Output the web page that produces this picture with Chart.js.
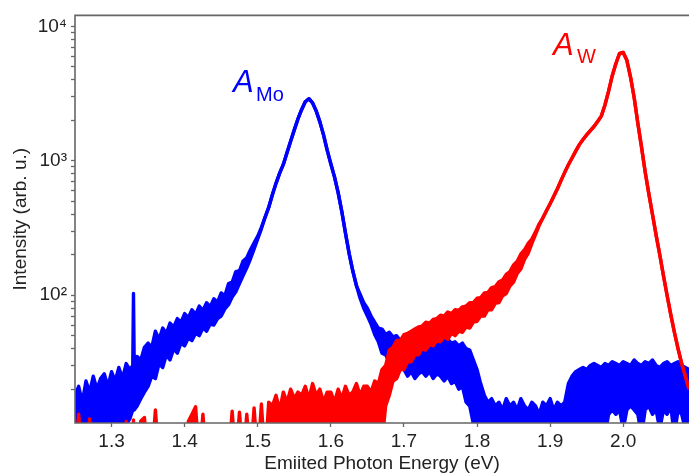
<!DOCTYPE html>
<html>
<head>
<meta charset="utf-8">
<script src="https://cdn.jsdelivr.net/npm/chart.js@4/dist/chart.umd.min.js"></script>
<style>
html,body{margin:0;padding:0;background:#fff;}
#wrap{width:689px;height:475px;position:relative;}
</style>
</head>
<body>
<div id="wrap"><canvas id="c"></canvas></div>
<script>
// Emitted photon energy grid (eV)
const energy = [
1.250,1.255,1.260,1.265,1.270,1.275,1.280,1.285,1.290,1.295,
1.300,1.305,1.310,1.315,1.320,1.325,1.329,1.330,1.331,1.335,1.340,1.345,
1.350,1.355,1.360,1.365,1.370,1.375,1.380,1.385,1.390,1.395,
1.400,1.405,1.410,1.415,1.420,1.425,1.430,1.435,1.440,1.445,
1.450,1.455,1.460,1.465,1.470,1.475,1.480,1.485,1.490,1.495,
1.500,1.505,1.510,1.515,1.520,1.525,1.530,1.535,1.540,1.545,
1.550,1.555,1.560,1.565,1.570,1.575,1.580,1.585,1.590,1.595,
1.600,1.605,1.610,1.615,1.620,1.625,1.630,1.635,1.640,1.645,
1.650,1.655,1.660,1.665,1.670,1.675,1.680,1.685,1.690,1.695,
1.700,1.705,1.710,1.715,1.720,1.725,1.730,1.735,1.740,1.745,
1.750,1.755,1.760,1.765,1.770,1.775,1.780,1.785,1.790,1.795,
1.800,1.805,1.810,1.815,1.820,1.825,1.830,1.835,1.840,1.845,
1.850,1.855,1.860,1.865,1.870,1.875,1.880,1.885,1.890,1.895,
1.900,1.905,1.910,1.915,1.920,1.925,1.930,1.935,1.940,1.945,
1.950,1.955,1.960,1.965,1.970,1.975,1.980,1.985,1.990,1.995,
2.000,2.005,2.010,2.015,2.020,2.025,2.030,2.035,2.040,2.045,
2.050,2.055,2.060,2.065,2.070,2.075,2.080,2.085,2.090
];

// A_Mo emission (blue): upper and lower edge of the noisy trace, arb. u.
const moHigh = [
18,21,16,23,19,25,20,24,26,21,
27,23,29,24,31,28,30,103,31,35,33,41,
44,41,54,47,57,52,62,58,67,63,
73,68,78,72,83,77,88,82,94,89,
104,99,122,125,150,152,180,190,218,245,
275,320,380,450,560,680,810,940,1150,1400,
1700,2050,2400,2750,2900,2700,2350,1950,1560,1200,
950,760,580,420,290,205,152,118,102,88,
80,70,63,57,56,51,53,49,50,46,
46,42,48,43,46,49,45,44,50,46,
54,46,47,44,45,42,44,40,39,33,
28,22,18,16,17,15,16,14,17,15,
16,14,17,15,14,16,15,13,16,15,
17,14,16,15,16,22,25,27,28,29,
28,30,31,30,29,31,30,32,31,30,
32,31,30,33,31,30,32,31,33,30,
29,31,32,30,31,32,30,29,28
];
const moLow = [
8,9,7,9,8,7,9,8,10,9,
8,9,10,9,11,12,14,14,14,15,17,19,
21,25,24,31,29,36,33,40,37,44,
42,48,46,52,50,57,54,61,60,67,
70,79,85,97,106,122,140,160,186,220,
262,312,380,450,560,680,810,940,1150,1400,
1700,2050,2400,2750,2900,2700,2350,1950,1560,1200,
950,760,580,420,290,205,152,118,95,80,
70,61,51,45,37,36,32,34,29,30,
28,25,27,24,26,27,25,27,24,26,
25,23,25,22,23,20,21,16,15,11,
8,7,7,7,7,7,7,7,7,7,
7,7,7,7,7,7,7,7,7,7,
7,7,7,7,7,8,9,9,9,10,
9,10,9,10,10,9,13,14,13,14,
10,14,15,14,13,9,14,15,13,14,
10,14,13,15,9,14,13,10,13
];

// A_W emission (red): upper and lower edge of the noisy trace, arb. u.
const wHigh = [
6,13,6,6,12,6,6,6,6,6,
6,6,6,6,11.5,6,6,11.8,6,6,11.6,12.3,
6,6,14,6,6,6,6,6,6,6,
6,11.5,13,14.8,6,13,6,6,6,6,
6,6,6,13.7,6,13.5,6,13,6,14.5,
6,15.5,6,16,15,18,14,19,16,20,
17,19,18,21,17,22,18,20,16,19,
19,16,20,17,21,18,19,22,18,21,
21,19,23,22,28,30,39,41,46,46,
51,52,54,56,58,59,63,62,66,67,
71,70,75,73,78,77,82,83,88,88,
95,96,104,105,114,116,126,130,143,150,
168,179,203,218,243,262,296,340,375,425,
480,545,620,715,820,935,1050,1180,1320,1440,
1560,1680,1800,1960,2150,2600,3300,4300,5300,6300,
6400,5600,4200,2950,1900,1270,830,570,400,280,
200,140,100,72,53,40,31,25,20
];
const wLow = [
6,6,6,6,6,6,6,6,6,6,
6,6,6,6,6,6,6,6,6,6,6,6,
6,6,6,6,6,6,6,6,6,6,
6,6,6,6,6,6,6,6,6,6,
6,6,6,6,6,6,6,6,6,6,
6,6,6,6,6,6,6,6,6,6,
6,6,6,6,6,6,6,6,6,6,
6,6,6,6,6,6,6,6,6,6,
6,6,6,6,8,15,18,23,24,28,
28,32,32,36,36,40,39,43,42,46,
45,49,47,52,50,54,53,58,57,63,
64,70,70,78,78,87,88,99,103,117,
125,145,157,185,205,242,282,330,375,425,
480,545,620,715,820,935,1050,1180,1320,1440,
1560,1680,1800,1960,2150,2600,3300,4300,5300,6300,
6400,5600,4200,2950,1900,1270,830,570,400,280,
200,140,100,72,53,40,31,25,20
];

const xTickValues = [1.3,1.4,1.5,1.6,1.7,1.8,1.9,2.0];
const yTickValues = [20,30,40,50,60,70,80,90,100,200,300,400,500,600,700,800,900,
  1000,2000,3000,4000,5000,6000,7000,8000,9000,10000];
const yTickLabels = {100:'10\u00B2',1000:'10\u00B3',10000:'10\u2074'};
const xRange = [1.25, 2.09];
const yRange = [11.2, 12080];

const FONT = '"Liberation Sans", Arial, Helvetica, sans-serif';
const BLUE = '#0000ff';
const RED = '#ff0000';

const framePlugin = {
  id: 'frame',
  afterDatasetsDraw(chart) {
    const {ctx, chartArea: a} = chart;
    ctx.save();
    ctx.strokeStyle = '#666';
    ctx.lineWidth = 1.6;
    ctx.beginPath();
    ctx.moveTo(a.left, a.top); ctx.lineTo(a.right + 2, a.top);
    ctx.moveTo(a.left, a.top - 0.8); ctx.lineTo(a.left, a.bottom + 0.8);
    ctx.moveTo(a.left, a.bottom); ctx.lineTo(a.right + 2, a.bottom);
    ctx.stroke();
    ctx.textBaseline = 'alphabetic';
    ctx.textAlign = 'left';
    ctx.fillStyle = BLUE;
    ctx.font = 'italic 31px ' + FONT; ctx.fillText('A', 233, 92);
    ctx.font = '20px ' + FONT; ctx.fillText('Mo', 256, 101);
    ctx.fillStyle = RED;
    ctx.font = 'italic 31px ' + FONT; ctx.fillText('A', 553, 55);
    ctx.font = '20px ' + FONT; ctx.fillText('W', 577, 63);
    ctx.restore();
  }
};

const toPoints = arr => energy.map((e, i) => ({x: e, y: arr[i]}));
const lineStyle = (color) => ({borderColor: color, backgroundColor: color, borderWidth: 3.4,
  pointRadius: 0, tension: 0, borderJoinStyle: 'round', clip: 0});

new Chart(document.getElementById('c'), {
  type: 'line',
  data: {
    datasets: [
      Object.assign({label: 'A_Mo high', data: toPoints(moHigh), fill: '+1', order: 2}, lineStyle(BLUE)),
      Object.assign({label: 'A_Mo low', data: toPoints(moLow), fill: false, order: 3}, lineStyle(BLUE)),
      Object.assign({label: 'A_W high', data: toPoints(wHigh), fill: '+1', order: 0}, lineStyle(RED)),
      Object.assign({label: 'A_W low', data: toPoints(wLow), fill: false, order: 1}, lineStyle(RED))
    ]
  },
  options: {
    responsive: true,
    maintainAspectRatio: false,
    animation: false,
    events: [],
    layout: {padding: {top: 8, right: 0, left: 0, bottom: 0}},
    plugins: {legend: {display: false}, tooltip: {enabled: false}, filler: {drawTime: 'beforeDatasetDraw'}},
    scales: {
      x: {
        type: 'linear', min: xRange[0], max: xRange[1],
        afterBuildTicks: s => { s.ticks = xTickValues.map(v => ({value: v})); },
        afterFit: s => { s.height = 52; },
        ticks: {callback: v => Number(v).toFixed(1), font: {family: FONT, size: 19}, color: '#222',
                padding: 3, maxRotation: 0, autoSkip: false},
        grid: {drawOnChartArea: false, drawTicks: true, tickLength: 4, tickColor: '#666', tickWidth: 1.3},
        border: {display: false},
        title: {display: true, text: 'Emiited Photon Energy (eV)', font: {family: FONT, size: 19},
                color: '#222', padding: {top: 0, bottom: 0}}
      },
      y: {
        type: 'logarithmic', min: yRange[0], max: yRange[1],
        afterBuildTicks: s => { s.ticks = yTickValues.map(v => ({value: v})); },
        afterFit: s => { s.width = 75; },
        ticks: {callback: v => yTickLabels[v] || '', font: {family: FONT, size: 19}, color: '#222',
                padding: 4, autoSkip: false},
        grid: {drawOnChartArea: false, drawTicks: true, tickLength: 4, tickColor: '#666', tickWidth: 1.3},
        border: {display: false},
        title: {display: true, text: 'Intensity (arb. u.)', font: {family: FONT, size: 19},
                color: '#222', padding: {top: 9, bottom: 0}}
      }
    }
  },
  plugins: [framePlugin]
});
</script>
</body>
</html>
